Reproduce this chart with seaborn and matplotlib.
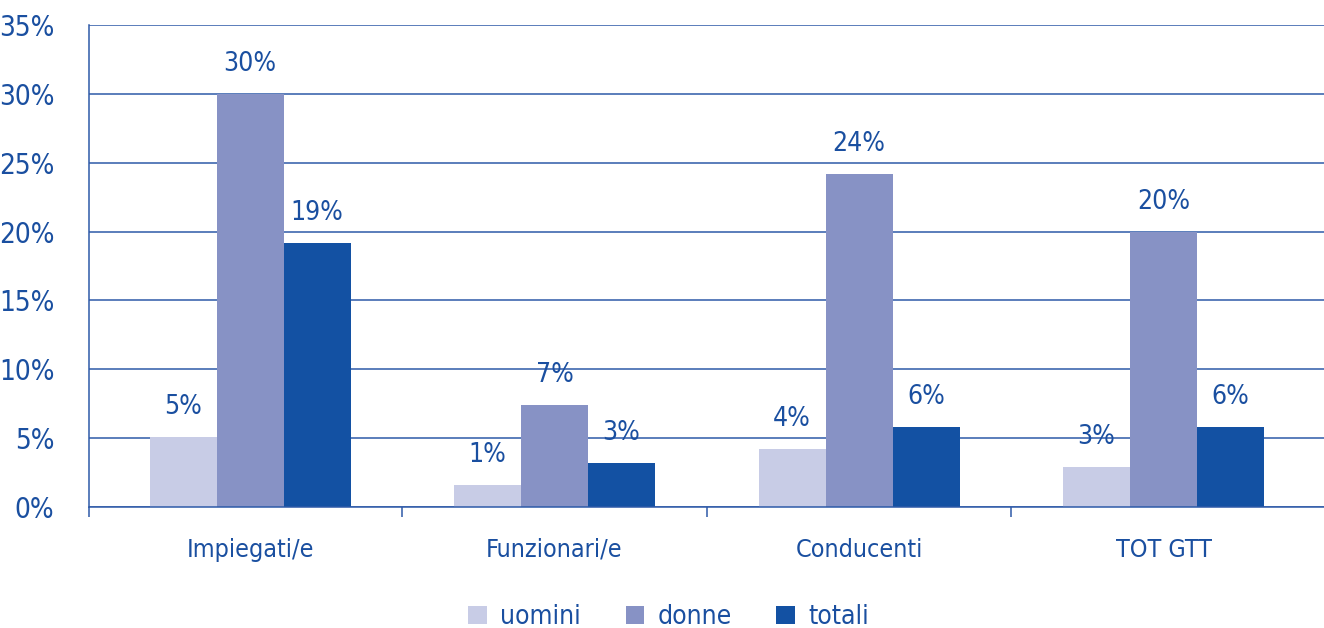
import pandas as pd
import matplotlib
matplotlib.use("Agg")
import matplotlib.pyplot as plt
import seaborn as sns

categories = ["Impiegati/e", "Funzionari/e", "Conducenti", "TOT GTT"]
uomini = [5.1, 1.6, 4.2, 2.9]
donne = [30.0, 7.4, 24.2, 20.0]
totali = [19.2, 3.2, 5.8, 5.8]
# labels as printed on the chart
uomini_lbl = ["5%", "1%", "4%", "3%"]
donne_lbl = ["30%", "7%", "24%", "20%"]
totali_lbl = ["19%", "3%", "6%", "6%"]
series = ["uomini", "donne", "totali"]
colors = ["#C8CCE6", "#8792C5", "#1351A3"]
yticks = [0, 5, 10, 15, 20, 25, 30, 35]

blue = "#1A4FA0"
line = "#2E5AA8"

df = pd.DataFrame({
    "categoria": categories * 3,
    "serie": ["uomini"] * 4 + ["donne"] * 4 + ["totali"] * 4,
    "valore": uomini + donne + totali,
})

sns.set_style("white")
plt.rcParams["font.family"] = ["DejaVu Sans"]
plt.rcParams["font.stretch"] = "condensed"

fig = plt.figure(figsize=(13.24, 6.28), dpi=100)
ax = fig.add_axes([89 / 1324, 121 / 628, (1324 - 89) / 1324, 482 / 628])

sns.barplot(data=df, x="categoria", y="valore", hue="serie", order=categories,
            hue_order=series, palette=colors, width=0.66, saturation=1,
            linewidth=0, ax=ax, legend=True)

for cont, lbls in zip(ax.containers, [uomini_lbl, donne_lbl, totali_lbl]):
    ax.bar_label(cont, labels=lbls, padding=12, color=blue, fontsize=19)

x_left, x_right = -0.529, 3.527
ax.set_ylim(0, 35)
ax.set_xlim(x_left, x_right)
ax.set_yticks(yticks)
ax.set_yticklabels([f"{t}%" for t in yticks], color=blue, fontsize=20)
ax.yaxis.grid(True, color=line, linewidth=1.1)
ax.set_axisbelow(True)
ax.tick_params(axis="y", length=7, width=1.1, color=line, pad=18)

ax.set_xticks(range(len(categories)))
ax.set_xticklabels(categories, color=blue, fontsize=18)
ax.set_xticks([x_left, 0.5, 1.5, 2.5], minor=True)
ax.tick_params(axis="x", which="major", length=0, pad=22)
ax.tick_params(axis="x", which="minor", length=7, width=1.1, color=line, bottom=True)
ax.set_xlabel("")
ax.set_ylabel("")

for s in ["top", "right"]:
    ax.spines[s].set_visible(False)
for s in ["left", "bottom"]:
    ax.spines[s].set_color(line)
    ax.spines[s].set_linewidth(1.1)

handles, labels = ax.get_legend_handles_labels()
ax.get_legend().remove()
fig.legend(handles, labels, loc="center", bbox_to_anchor=(0.505, 1 - 617 / 628),
           ncol=3, frameon=False, fontsize=19, labelcolor=blue,
           handlelength=0.7, handleheight=0.7, columnspacing=1.7, handletextpad=0.5)

fig.savefig("out.png", dpi=100)
